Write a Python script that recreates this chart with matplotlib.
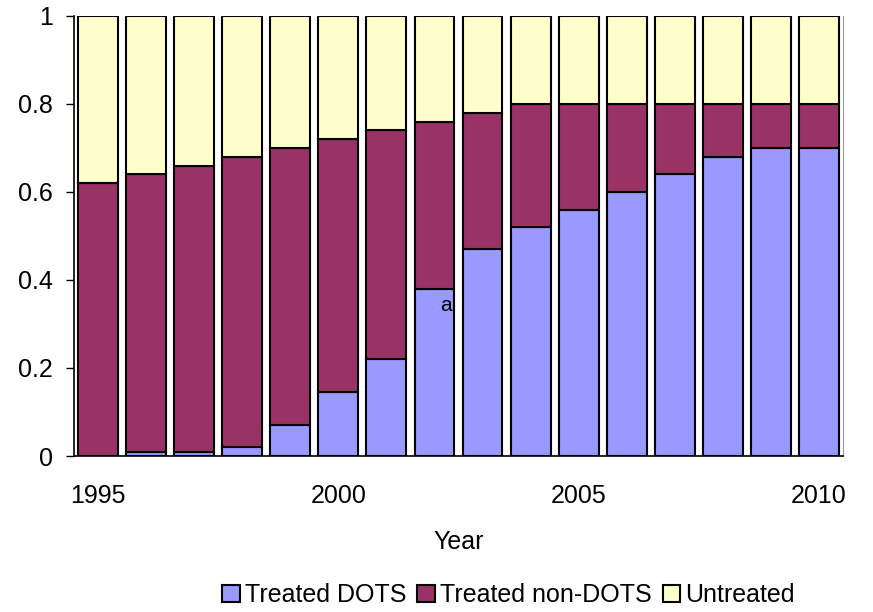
import numpy as np
import matplotlib.pyplot as plt

plt.rcParams['font.family'] = ['Liberation Sans', 'DejaVu Sans']

years = list(range(1995, 2011))
dots = [0.0, 0.01, 0.01, 0.02, 0.07, 0.145, 0.22, 0.38, 0.47, 0.52, 0.56, 0.60, 0.64, 0.68, 0.70, 0.70]
treated_total = [0.62, 0.64, 0.66, 0.68, 0.70, 0.72, 0.74, 0.76, 0.78, 0.80, 0.80, 0.80, 0.80, 0.80, 0.80, 0.80]

dots = np.array(dots)
non_dots = np.array(treated_total) - dots
untreated = 1 - np.array(treated_total)

fig = plt.figure(figsize=(8.73, 6.12), dpi=100)
ax = fig.add_axes([0.0848, 0.2549, 0.8808, 0.719])

x = np.arange(len(years))
w = 0.83
ax.bar(x, dots, w, color='#9999FF', edgecolor='black', linewidth=1.5, label='Treated DOTS')
ax.bar(x, non_dots, w, bottom=dots, color='#993366', edgecolor='black', linewidth=1.5, label='Treated non-DOTS')
ax.bar(x, untreated, w, bottom=dots + non_dots, color='#FFFFCC', edgecolor='black', linewidth=1.5, label='Untreated')

ax.text(7.23, 0.343, 'a', fontsize=15, ha='center', va='center')

fs = 18
ax.set_xlim(-0.5, len(years) - 0.5)
ax.set_ylim(0, 1)
ax.set_yticks([0, 0.2, 0.4, 0.6, 0.8, 1])
ax.set_yticklabels(['0', '0.2', '0.4', '0.6', '0.8', '1'], fontsize=fs)
tick_years = [1995, 2000, 2005, 2010]
ax.set_xticks([years.index(y) for y in tick_years])
ax.set_xticklabels([str(y) for y in tick_years], fontsize=fs)
ax.tick_params(axis='x', length=0, pad=20)
ax.tick_params(axis='y', length=6, width=1, direction='out', pad=9)
ax.set_xlabel('Year', fontsize=fs, labelpad=16)

ax.spines['top'].set_visible(False)
ax.spines['right'].set_color('#999999')
ax.spines['left'].set_linewidth(1.2)
ax.spines['bottom'].set_linewidth(1.2)

ax.legend(loc='center', bbox_to_anchor=(0.565, -0.317), ncol=3, frameon=False,
          fontsize=fs, handlelength=0.7, handleheight=0.7, handletextpad=0.2,
          columnspacing=0.45)

fig.savefig('out.png', dpi=100)
